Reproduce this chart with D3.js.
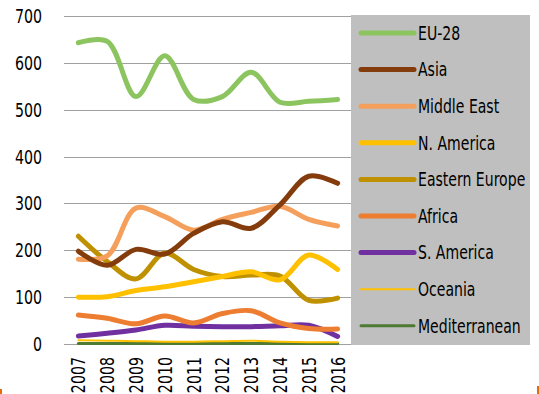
<!DOCTYPE html>
<html>
<head>
<meta charset="utf-8">
<script src="https://cdn.jsdelivr.net/npm/d3@7"></script>
<style>
  body { margin: 0; background: #fff; }
  svg { display: block; font-family: "DejaVu Sans", sans-serif; }
</style>
</head>
<body>
<div id="chart"></div>
<script>
const width = 539;
const height = 394;

// data
const years = ["2007", "2008", "2009", "2010", "2011", "2012", "2013", "2014", "2015", "2016"];
const regions = ["EU-28", "Asia", "Middle East", "N. America", "Eastern Europe", "Africa", "S. America", "Oceania", "Mediterranean"];
const eu28 = [643, 646, 528, 615, 522, 528, 580, 516, 518, 522];
const asia = [198, 168, 202, 192, 236, 261, 247, 297, 358, 343];
const middleEast = [181, 188, 290, 272, 243, 266, 281, 294, 266, 252];
const nAmerica = [100, 101, 114, 122, 133, 144, 154, 137, 190, 159];
const easternEurope = [230, 176, 139, 194, 159, 144, 147, 145, 93, 98];
const africa = [62, 55, 43, 60, 45, 65, 71, 45, 33, 32];
const sAmerica = [17, 23, 30, 40, 38, 37, 37, 39, 40, 16];
const oceania = [8, 7, 6, 5, 5, 6, 7, 5, 4, 4];
const mediterranean = [1, 1, 1, 1, 1, 1, 1, 1, 1, 1];
const yTicks = [0, 100, 200, 300, 400, 500, 600, 700];

const seriesValues = [eu28, asia, middleEast, nAmerica, easternEurope, africa, sAmerica, oceania, mediterranean];
const colors = ["#8cc560", "#843c0c", "#f4a05c", "#ffc000", "#bf9000", "#ed7d31", "#7030a0", "#ffc000", "#4e7a33"];
const widths = [5, 5, 5, 5, 5, 5, 5, 2, 3];

const series = regions.map((name, i) => ({ name: name, values: seriesValues[i], color: colors[i], w: widths[i] }));

const svg = d3.select("#chart")
  .append("svg")
  .attr("width", width)
  .attr("height", height);

// no condensed face available, so squeeze the glyphs horizontally
function condense(sel, factor) {
  sel.each(function() {
    const len = this.getComputedTextLength();
    d3.select(this)
      .attr("textLength", len * factor)
      .attr("lengthAdjust", "spacingAndGlyphs");
  });
}

const x = d3.scalePoint()
  .domain(years)
  .range([64, 352])
  .padding(0.5);

const y = d3.scaleLinear()
  .domain([0, 700])
  .range([344, 16]);

// gridlines
svg.append("g")
  .selectAll("line")
  .data(yTicks)
  .enter()
  .append("line")
  .attr("x1", 64)
  .attr("x2", 352)
  .attr("y1", d => Math.round(y(d)) + 0.5)
  .attr("y2", d => Math.round(y(d)) + 0.5)
  .attr("stroke", "#a0a0a0")
  .attr("stroke-width", 1);

// y labels
svg.append("g")
  .selectAll("text")
  .data(yTicks)
  .enter()
  .append("text")
  .attr("x", 42)
  .attr("y", d => y(d))
  .attr("text-anchor", "end")
  .attr("dominant-baseline", "central")
  .attr("font-size", 20)
  .attr("fill", "#000")
  .text(d => d)
  .call(condense, 0.71);

// x labels, rotated
svg.append("g")
  .selectAll("text")
  .data(years)
  .enter()
  .append("text")
  .attr("transform", d => `translate(${x(d)},357) rotate(-90)`)
  .attr("text-anchor", "end")
  .attr("dominant-baseline", "central")
  .attr("font-size", 20)
  .attr("fill", "#000")
  .text(d => d)
  .call(condense, 0.71);

const line = d3.line()
  .x((d, i) => x(years[i]))
  .y(d => y(d))
  .curve(d3.curveCatmullRom.alpha(0.5));

// draw bottom series first so EU-28 ends on top
svg.append("g")
  .selectAll("path")
  .data(series.slice().reverse())
  .enter()
  .append("path")
  .attr("d", d => line(d.values))
  .attr("fill", "none")
  .attr("stroke", d => d.color)
  .attr("stroke-width", d => d.w)
  .attr("stroke-linecap", "round")
  .attr("stroke-linejoin", "round");

// legend
const legend = svg.append("g");
legend.append("rect")
  .attr("x", 351)
  .attr("y", 15)
  .attr("width", 179)
  .attr("height", 330)
  .attr("fill", "#bfbfbf");

const rowY = i => 33 + i * 36.6;

const items = legend.selectAll("g.item")
  .data(series)
  .enter()
  .append("g")
  .attr("class", "item");

items.append("line")
  .attr("x1", 361)
  .attr("x2", 414)
  .attr("y1", (d, i) => rowY(i))
  .attr("y2", (d, i) => rowY(i))
  .attr("stroke", d => d.color)
  .attr("stroke-width", d => d.w)
  .attr("stroke-linecap", "round");

items.append("text")
  .attr("transform", (d, i) => `translate(418,${rowY(i)}) scale(0.74,1)`)
  .attr("dominant-baseline", "central")
  .attr("font-size", 19)
  .attr("fill", "#000")
  .text(d => d.name);

// bits of the outer frame peeking in at the corners
svg.append("rect").attr("x", 0).attr("y", 389).attr("width", 2).attr("height", 5).attr("fill", "#e46c0a");
svg.append("rect").attr("x", 537).attr("y", 386).attr("width", 2).attr("height", 8).attr("fill", "#e46c0a");
</script>
</body>
</html>
